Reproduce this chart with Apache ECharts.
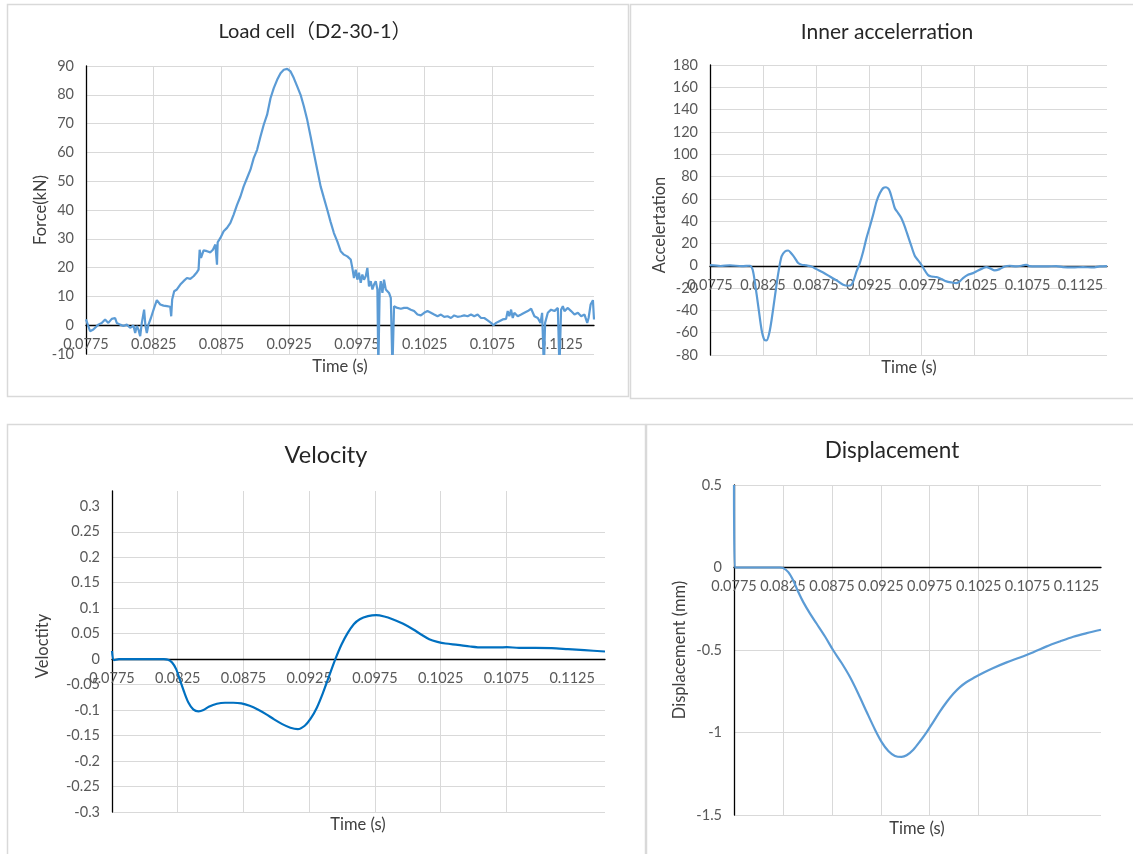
<!DOCTYPE html>
<html>
<head>
<meta charset="utf-8">
<title>Impact test signals</title>
<script src="https://cdn.jsdelivr.net/npm/echarts@6/dist/echarts.min.js"></script>
<style>
  html, body { margin: 0; padding: 0; background: #fff; }
  #chart { width: 1133px; height: 854px; }
</style>
</head>
<body>
<div id="chart"></div>
<script>
// ---- time axis ----
const timeTicks = [0.0775, 0.0825, 0.0875, 0.0925, 0.0975, 0.1025, 0.1075, 0.1125];

// ---- load cell (kN) ----
const loadTime = [0.07750,0.07780,0.07804,0.07841,0.07866,0.07891,0.07915,0.07940,0.07965,0.07977,
  0.08002,0.08026,0.08051,0.08076,0.08100,0.08113,0.08125,0.08137,0.08150,0.08162,
  0.08179,0.08189,0.08199,0.08211,0.08229,0.08243,0.08253,0.08273,0.08298,0.08322,
  0.08347,0.08372,0.08379,0.08386,0.08401,0.08421,0.08446,0.08470,0.08495,0.08520,
  0.08544,0.08569,0.08581,0.08589,0.08599,0.08618,0.08643,0.08668,0.08687,0.08705,
  0.08717,0.08722,0.08742,0.08766,0.08791,0.08816,0.08840,0.08865,0.08890,0.08914,
  0.08939,0.08964,0.08988,0.09013,0.09038,0.09062,0.09087,0.09112,0.09136,0.09161,
  0.09186,0.09210,0.09235,0.09260,0.09284,0.09309,0.09334,0.09358,0.09383,0.09408,
  0.09432,0.09457,0.09482,0.09506,0.09531,0.09556,0.09580,0.09605,0.09630,0.09654,
  0.09679,0.09704,0.09716,0.09728,0.09741,0.09753,0.09765,0.09778,0.09790,0.09802,
  0.09815,0.09827,0.09839,0.09852,0.09864,0.09876,0.09889,0.09901,0.09908,0.09918,
  0.09926,0.09938,0.09950,0.09963,0.09975,0.09987,0.10000,0.10012,0.10024,0.10037,
  0.10049,0.10074,0.10098,0.10123,0.10148,0.10172,0.10197,0.10222,0.10246,0.10271,
  0.10296,0.10320,0.10345,0.10370,0.10394,0.10419,0.10444,0.10468,0.10493,0.10518,
  0.10542,0.10567,0.10592,0.10616,0.10641,0.10666,0.10690,0.10715,0.10740,0.10758,
  0.10777,0.10801,0.10826,0.10851,0.10863,0.10875,0.10888,0.10900,0.10912,0.10937,
  0.10962,0.10986,0.11011,0.11036,0.11048,0.11060,0.11085,0.11105,0.11117,0.11130,
  0.11139,0.11159,0.11183,0.11208,0.11233,0.11245,0.11257,0.11270,0.11282,0.11307,
  0.11331,0.11356,0.11381,0.11405,0.11430,0.11450,0.11460,0.11475,0.11492,0.11497,
  0.11500];
const loadForce = [2.0,-2.1,-1.5,0.2,0.8,2.0,0.8,2.2,2.5,0.8,
  0.2,-0.3,0.2,-0.9,-0.1,-2.7,-0.3,-1.5,-3.8,0.8,
  5.4,-0.3,-2.7,0.2,2.5,3.1,6.0,8.7,7.2,6.8,
  6.6,6.4,3.1,8.9,11.8,12.4,14.1,15.3,16.4,16.1,
  17.0,18.4,19.3,26.2,23.4,26.0,25.7,25.3,26.2,28.0,
  21.0,28.8,30.3,32.6,33.8,35.5,38.4,41.8,44.7,48.2,
  51.1,54.0,58.0,60.9,65.5,69.6,73.1,78.8,82.3,85.2,
  87.5,88.7,89.0,88.1,85.8,82.9,80.0,76.0,71.3,65.5,
  59.8,54.0,48.2,44.2,40.1,35.8,32.0,29.1,25.7,24.5,
  23.9,22.8,19.9,16.4,19.3,15.8,18.2,14.7,17.6,15.8,
  17.0,19.9,13.5,15.3,12.4,14.1,15.3,12.4,-15,12.4,
  15.3,11.2,15.8,12.4,12.9,11.2,9.5,-15,6.6,7.2,
  6.0,5.7,6.0,6.0,5.4,4.9,3.7,3.4,4.3,4.9,
  4.3,3.7,3.1,3.7,2.9,3.1,2.5,3.4,2.9,3.1,
  3.4,3.1,3.7,3.1,3.7,2.5,2.5,1.7,0.8,0,
  0.8,1.4,2.0,2.2,4.9,3.1,5.4,2.5,4.3,3.1,
  3.7,4.3,4.9,5.7,6.0,3.1,2.5,0.8,4.3,-15,
  0.8,4.3,5.4,4.9,6.0,-15,5.4,6.6,4.9,6.0,
  4.9,3.7,4.3,3.1,3.7,0.8,2.5,7.2,8.7,8.4,
  2.0];

// ---- inner acceleration ----
const accTime = [0.07750,0.07850,0.07939,0.08050,0.08127,0.08153,0.08175,0.08206,0.08237,0.08263,
  0.08285,0.08310,0.08332,0.08363,0.08395,0.08426,0.08458,0.08489,0.08521,0.08552,
  0.08583,0.08615,0.08662,0.08709,0.08756,0.08819,0.08882,0.08945,0.09008,0.09055,
  0.09087,0.09109,0.09134,0.09165,0.09197,0.09228,0.09260,0.09291,0.09323,0.09354,
  0.09385,0.09411,0.09442,0.09473,0.09496,0.09527,0.09558,0.09590,0.09621,0.09653,
  0.09684,0.09716,0.09747,0.09779,0.09810,0.09841,0.09889,0.09936,0.09983,0.10030,
  0.10077,0.10109,0.10140,0.10187,0.10235,0.10282,0.10329,0.10360,0.10392,0.10439,
  0.10486,0.10533,0.10581,0.10643,0.10706,0.10738,0.10769,0.10832,0.10926,0.11021,
  0.11084,0.11178,0.11272,0.11367,0.11430,0.11500];
const accValue = [0.5,-0.2,0.3,-0.3,0,-3.6,-15.5,-36.4,-57.3,-66.3,
  -66.9,-60.3,-48.4,-27.5,-6.6,8.4,12.8,13.7,10.7,6.9,
  2.4,0.9,0.3,-0.6,-3.0,-6.0,-9.6,-13.1,-17.0,-17.9,
  -17.0,-12.5,-5.1,2.4,12.8,24.8,35.2,45.7,57.6,65.1,
  69.6,70.4,68.1,59.1,51.6,47.2,42.7,35.2,26.3,17.3,
  9.0,4.8,0.9,-4.2,-8.4,-9.6,-10.1,-11.9,-14.0,-14.9,
  -15.5,-14.0,-11.0,-8.0,-6.6,-4.2,-2.1,-1.2,-2.1,-4.2,
  -3.0,-0.6,0,-0.6,0.3,0.9,-0.3,-0.6,-0.6,-0.3,
  -1.2,-1.5,-1.2,-1.5,-0.6,-0.3];

// ---- velocity ----
const velTime = [0.07750,0.07766,0.07803,0.08144,0.08176,0.08207,0.08238,0.08269,0.08300,0.08331,
  0.08368,0.08408,0.08446,0.08486,0.08548,0.08610,0.08672,0.08734,0.08797,0.08859,
  0.08921,0.08983,0.09045,0.09107,0.09163,0.09216,0.09262,0.09309,0.09356,0.09402,
  0.09449,0.09495,0.09542,0.09589,0.09635,0.09697,0.09759,0.09821,0.09884,0.09961,
  0.10039,0.10101,0.10163,0.10225,0.10287,0.10380,0.10474,0.10567,0.10691,0.10753,
  0.10846,0.10971,0.11095,0.11219,0.11343,0.11500];
const velValue = [0.016,-0.002,0,0,-0.001,-0.0065,-0.0196,-0.0425,-0.0654,-0.085,
  -0.0987,-0.1026,-0.1,-0.0935,-0.0876,-0.0856,-0.0856,-0.0869,-0.0915,-0.0987,
  -0.1078,-0.1183,-0.1275,-0.1346,-0.1373,-0.1307,-0.1163,-0.0948,-0.0654,-0.0327,
  0,0.0281,0.051,0.0686,0.0784,0.0843,0.0863,0.0837,0.0784,0.0699,
  0.0588,0.0484,0.0392,0.034,0.0307,0.0281,0.0248,0.0229,0.0229,0.0235,
  0.0222,0.0222,0.0216,0.0196,0.0176,0.015];
const velTicks = [-0.3,-0.25,-0.2,-0.15,-0.1,-0.05,0,0.05,0.1,0.15,0.2,0.25,0.3];

// ---- displacement (mm) ----
const dispTime = [0.07750,0.07757,0.08220,0.08254,0.08305,0.08356,0.08407,0.08458,0.08527,0.08595,
  0.08680,0.08765,0.08850,0.08935,0.09020,0.09106,0.09191,0.09259,0.09327,0.09395,
  0.09463,0.09514,0.09582,0.09651,0.09719,0.09787,0.09855,0.09923,0.09991,0.10059,
  0.10127,0.10196,0.10298,0.10400,0.10536,0.10672,0.10809,0.10945,0.11081,0.11217,
  0.11354,0.11500];
const dispValue = [0.5,0,0,-0.004,-0.028,-0.079,-0.149,-0.21,-0.28,-0.341,
  -0.418,-0.503,-0.579,-0.664,-0.765,-0.876,-0.983,-1.058,-1.112,-1.142,
  -1.148,-1.138,-1.104,-1.053,-0.997,-0.936,-0.872,-0.815,-0.765,-0.725,
  -0.694,-0.67,-0.638,-0.609,-0.575,-0.545,-0.513,-0.478,-0.448,-0.42,
  -0.398,-0.377];

const FONT = "Lato, 'Noto Sans CJK SC', sans-serif";
const LIGHT_BLUE = '#5B9BD5';
const DARK_BLUE = '#0070C0';
const GRID_GREY = '#d9d9d9';
const TICK_SIZE = 14.5;

const pairs = (xs, ys) => xs.map((x, i) => [x, ys[i]]);

// time axis: line and labels are later moved up to the y = 0 level
function timeAxis(gridIndex) {
  return {
    type: 'value', gridIndex, position: 'bottom',
    min: 0.0775, max: 0.115, interval: 0.0025,
    axisLine: { onZero: false, lineStyle: { color: '#000', width: 1.3 } },
    axisTick: { show: false, customValues: timeTicks },
    axisLabel: {
      customValues: timeTicks, color: '#595959', fontSize: TICK_SIZE, fontFamily: FONT, margin: 12,
      formatter: v => String(+v.toFixed(4))
    },
    splitLine: { show: true, showMaxLine: false, lineStyle: { color: GRID_GREY, width: 1 } }
  };
}

function valueAxis(gridIndex, min, max, interval, extra) {
  return Object.assign({
    type: 'value', gridIndex, min, max, interval,
    axisLine: { show: true, onZero: false, lineStyle: { color: '#000', width: 1.3 } },
    axisTick: { show: false },
    axisLabel: { color: '#595959', fontSize: TICK_SIZE, fontFamily: FONT, margin: 12 },
    splitLine: { show: true, lineStyle: { color: GRID_GREY, width: 1 } }
  }, extra || {});
}

function lineSeries(i, data, color, smooth) {
  return {
    type: 'line', xAxisIndex: i, yAxisIndex: i, data,
    showSymbol: false, symbol: 'none', smooth,
    lineStyle: { color, width: 2.2 }, itemStyle: { color },
    clip: true, silent: true, z: 3
  };
}

function label(x, y, text, size, fill, rotate) {
  return {
    type: 'text', x, y, rotation: rotate ? Math.PI / 2 : 0, silent: true,
    style: {
      text, fill, font: size + 'px ' + FONT,
      align: 'center', verticalAlign: 'middle',
      textAlign: 'center', textVerticalAlign: 'middle'
    }
  };
}

function frame(x, y, w, h) {
  return {
    type: 'rect', silent: true, z: -10,
    shape: { x, y, width: w, height: h },
    style: { fill: 'none', stroke: GRID_GREY, lineWidth: 1.5 }
  };
}

const option = {
  animation: false,
  backgroundColor: '#fff',
  grid: [
    { left: 86, top: 66, width: 508, height: 288 },
    { left: 710, top: 65, width: 397, height: 290 },
    { left: 112, top: 491, width: 493, height: 321 },
    { left: 734, top: 485, width: 367, height: 330 }
  ],
  xAxis: [timeAxis(0), timeAxis(1), timeAxis(2), timeAxis(3)],
  yAxis: [
    valueAxis(0, -10, 90, 10),
    valueAxis(1, -80, 180, 20),
    valueAxis(2, -0.3, 0.33, 0.05, {
      axisTick: { show: false, customValues: velTicks },
      axisLabel: { customValues: velTicks, color: '#595959', fontSize: TICK_SIZE, fontFamily: FONT, margin: 12,
        formatter: v => String(+v.toFixed(2)) },
      splitLine: { show: true, showMaxLine: false, lineStyle: { color: GRID_GREY, width: 1 } }
    }),
    valueAxis(3, -1.5, 0.5, 0.5)
  ],
  series: [
    lineSeries(0, pairs(loadTime, loadForce), LIGHT_BLUE, false),
    lineSeries(1, pairs(accTime, accValue), LIGHT_BLUE, 0.25),
    lineSeries(2, pairs(velTime, velValue), DARK_BLUE, 0.3),
    lineSeries(3, pairs(dispTime, dispValue), LIGHT_BLUE, 0.3)
  ],
  graphic: [
    frame(7.5, 4.5, 621, 392),
    frame(630.5, 4.5, 520, 394),
    frame(7.5, 424.5, 638, 450),
    frame(646.5, 424.5, 520, 450),
    label(315, 32, 'Load cell（D2-30-1）', 20, '#262626', false),
    label(887, 32, 'Inner accelerration', 21, '#262626', false),
    label(326, 455, 'Velocity', 23.5, '#262626', false),
    label(892, 451, 'Displacement', 22.5, '#262626', false),
    label(340, 367, 'Time (s)', 16.5, '#404040', false),
    label(909, 368, 'Time (s)', 16.5, '#404040', false),
    label(358, 825, 'Time (s)', 16.5, '#404040', false),
    label(917, 829, 'Time (s)', 16.5, '#404040', false),
    label(41, 210, 'Force(kN)', 16.5, '#404040', true),
    label(660, 225, 'Accelertation', 16.5, '#404040', true),
    label(43, 646, 'Veloctity', 16.5, '#404040', true),
    label(680, 650, 'Displacement (mm)', 16.5, '#404040', true)
  ]
};

const chart = echarts.init(document.getElementById('chart'), null, { renderer: 'canvas' });
chart.setOption(option);

// Lift each time axis so that it crosses its value axis at zero.
const lifted = option.yAxis.map((ya, i) => {
  const zeroPx = chart.convertToPixel({ yAxisIndex: i }, 0);
  const bottomPx = chart.convertToPixel({ yAxisIndex: i }, ya.min);
  return { offset: zeroPx - bottomPx };
});
chart.setOption({ xAxis: lifted });
</script>
</body>
</html>
